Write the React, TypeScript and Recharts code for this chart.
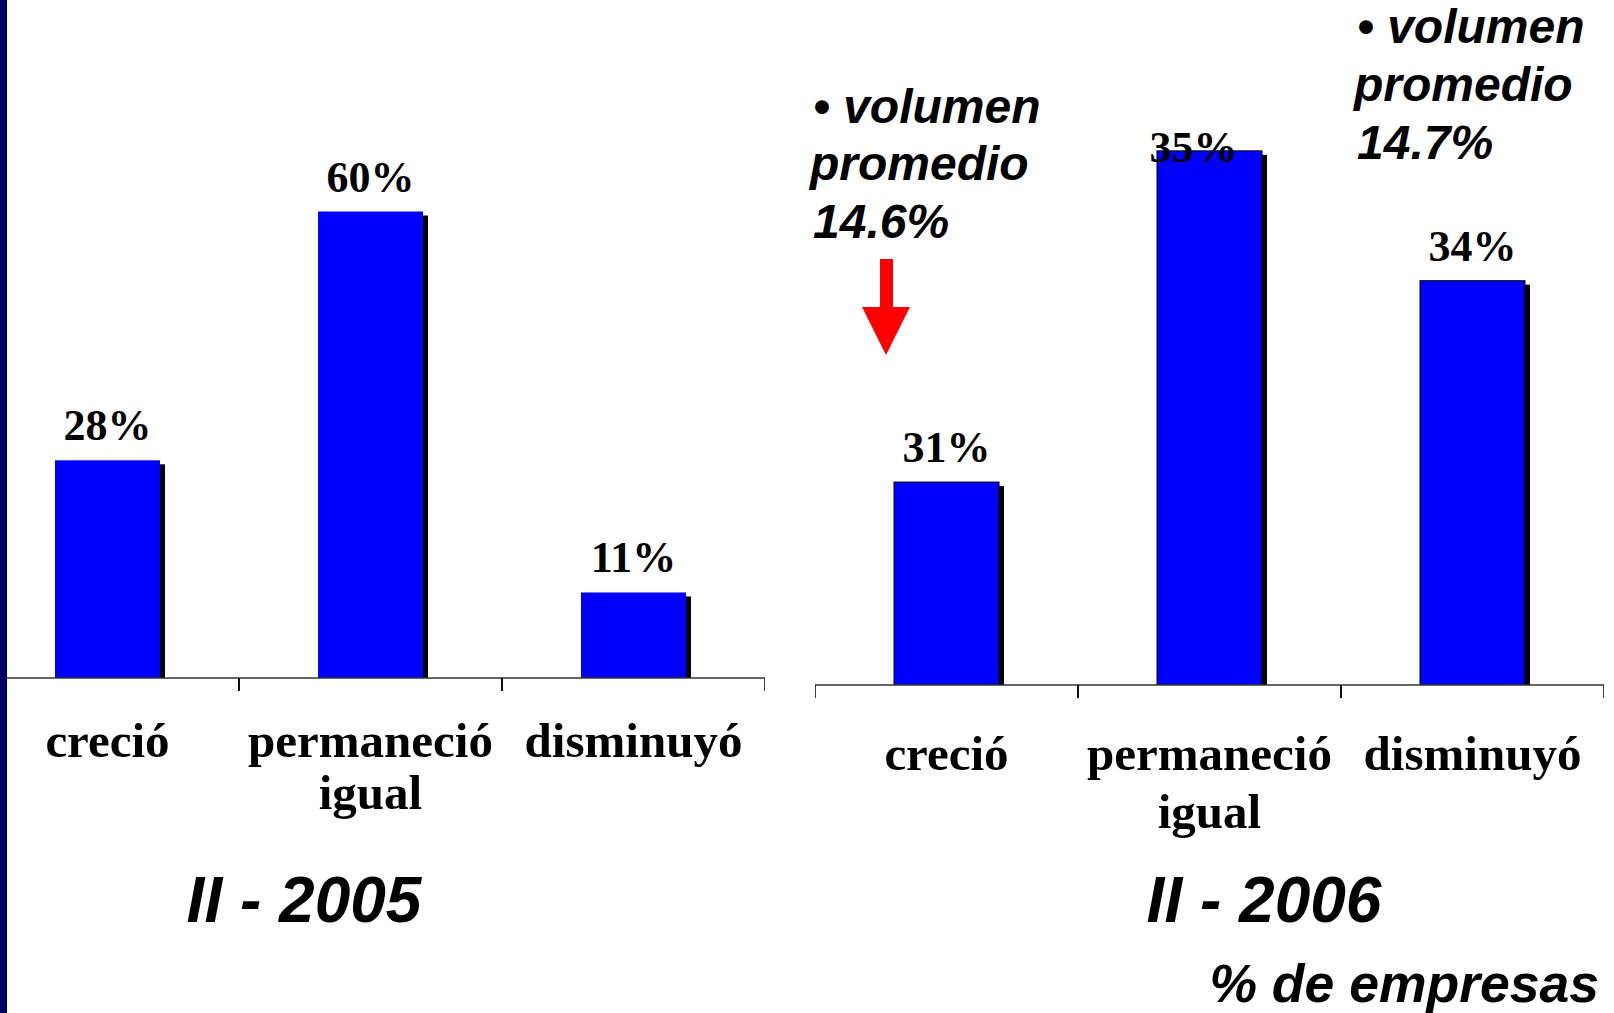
import { BarChart, Bar, XAxis, YAxis, LabelList } from "recharts";

// categorías del eje
const categorias = ["creció", "permaneció igual", "disminuyó"];

// II - 2005
const valores2005 = [28, 60, 11];
const etiquetas2005 = ["28%", "60%", "11%"];

// II - 2006 (alturas tal como están dibujadas; las etiquetas no coinciden con ellas)
const valores2006 = [26.1, 68.7, 52.0];
const etiquetas2006 = ["31%", "35%", "34%"];

const ANCHO = 789;
const ALTO = 880;
const EJE_Y = 678;
const MITAD_BANDA = ANCHO / categorias.length / 2;
const SERIF = "'Liberation Serif', 'Times New Roman', serif";
const SANS = "'Liberation Sans', Arial, sans-serif";

const BarraSombra = (props: any) => {
  const { x, y, width, height, fill, stroke } = props;
  if (!height) return null;
  return (
    <g>
      <rect x={x + 5} y={y + 4} width={width} height={height} fill="#000" />
      <rect
        x={x}
        y={y}
        width={width}
        height={height}
        fill={fill}
        stroke={stroke}
        strokeWidth={stroke ? 1 : 0}
      />
    </g>
  );
};

const TickCategoria = (props: any) => {
  const { x, y, payload, base, salto } = props;
  const lineas = String(payload.value).split(" ");
  return (
    <g>
      <line x1={x - MITAD_BANDA} x2={x - MITAD_BANDA} y1={y} y2={y + 13} stroke="#000" strokeWidth={1.5} />
      <line x1={x + MITAD_BANDA} x2={x + MITAD_BANDA} y1={y} y2={y + 13} stroke="#000" strokeWidth={1.5} />
      {lineas.map((l, i) => (
        <text
          key={i}
          x={x}
          y={y + base + i * salto}
          textAnchor="middle"
          fontFamily={SERIF}
          fontWeight="bold"
          fontSize={49}
          fill="#000"
        >
          {l}
        </text>
      ))}
    </g>
  );
};

const EtiquetaValor = (props: any) => {
  const { x, y, width, value, index, ajustes } = props;
  const a = (ajustes && ajustes[index]) || { dx: 0, dy: 0 };
  return (
    <text
      x={x + width / 2 + a.dx}
      y={y - 20 + a.dy}
      textAnchor="middle"
      fontFamily={SERIF}
      fontWeight="bold"
      fontSize={44}
      fill="#000"
    >
      {value}
    </text>
  );
};

function Grafico({
  valores,
  etiquetas,
  base,
  salto,
  borde,
  ajustes,
}: {
  valores: number[];
  etiquetas: string[];
  base: number;
  salto: number;
  borde?: string;
  ajustes?: Record<number, { dx: number; dy: number }>;
}) {
  const data = categorias.map((c, i) => ({ cat: c, valor: valores[i], etiqueta: etiquetas[i] }));
  return (
    <BarChart width={ANCHO} height={ALTO} data={data} margin={{ top: 56, right: 0, bottom: 0, left: 0 }}>
      <XAxis
        dataKey="cat"
        height={ALTO - EJE_Y}
        interval={0}
        tickSize={0}
        tickMargin={0}
        tickLine={false}
        axisLine={{ stroke: "#333", strokeWidth: 1.5 }}
        tick={<TickCategoria base={base} salto={salto} />}
      />
      <YAxis hide width={0} domain={[0, 80]} allowDataOverflow />
      <Bar
        dataKey="valor"
        fill="#0000FF"
        stroke={borde}
        barSize={105}
        isAnimationActive={false}
        shape={<BarraSombra />}
      >
        <LabelList dataKey="etiqueta" content={(p: any) => <EtiquetaValor {...p} ajustes={ajustes} />} />
      </Bar>
    </BarChart>
  );
}

export default function App() {
  return (
    <div
      style={{
        position: "fixed",
        left: 0,
        top: 0,
        width: 1614,
        height: 1013,
        overflow: "hidden",
        background: "#fff",
      }}
    >
      <div style={{ position: "absolute", left: -24, top: 0 }}>
        <Grafico valores={valores2005} etiquetas={etiquetas2005} base={79} salto={52} />
      </div>
      <div style={{ position: "absolute", left: 815, top: 7 }}>
        <Grafico
          valores={valores2006}
          etiquetas={etiquetas2006}
          base={85}
          salto={58}
          borde="#000"
          ajustes={{ 1: { dx: -16, dy: 31 } }}
        />
      </div>
      <div style={{ position: "absolute", left: 0, top: 0, width: 7, height: 1013, background: "#000060" }} />
      <svg
        width={1614}
        height={1013}
        style={{ position: "absolute", left: 0, top: 0, pointerEvents: "none" }}
      >
        <g fontFamily={SANS} fontWeight="bold" fontStyle="italic" fill="#000">
          <text x={813} y={123} fontSize={48}>• volumen</text>
          <text x={810} y={180} fontSize={48}>promedio</text>
          <text x={813} y={238} fontSize={48}>14.6%</text>
          <text x={1357} y={43} fontSize={48}>• volumen</text>
          <text x={1354} y={101} fontSize={48}>promedio</text>
          <text x={1357} y={159} fontSize={48}>14.7%</text>
          <text x={304} y={922} fontSize={64} textAnchor="middle">II - 2005</text>
          <text x={1264} y={922} fontSize={64} textAnchor="middle">II - 2006</text>
          <text x={1599} y={1002} fontSize={53.5} textAnchor="end">% de empresas</text>
        </g>
        <rect x={880} y={259} width={13} height={50} fill="#FF0000" />
        <polygon points="862,307 910,307 886,355" fill="#FF0000" />
      </svg>
    </div>
  );
}
